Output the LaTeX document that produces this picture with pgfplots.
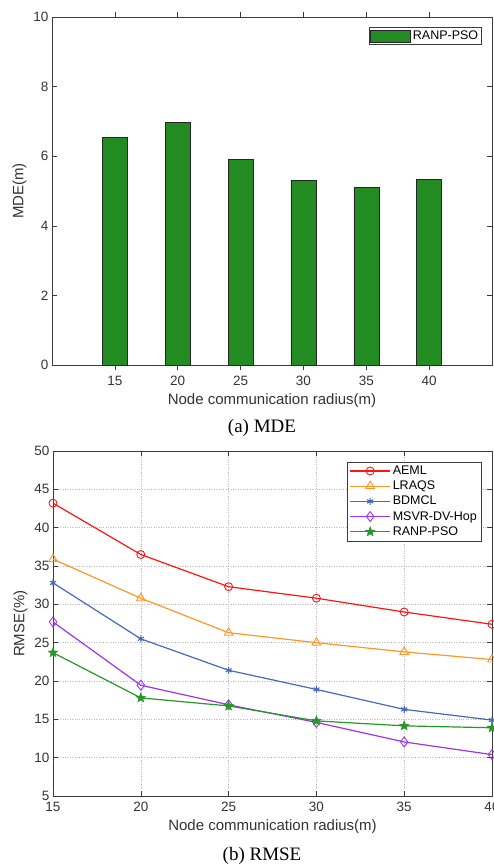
\documentclass[border=0pt]{standalone}
\usepackage{fontspec}
\setmainfont{Liberation Sans}
\newfontfamily\capfont{Liberation Serif}
\usepackage{pgfplots}
\pgfplotsset{compat=1.18}
\usetikzlibrary{plotmarks}

\definecolor{barg}{RGB}{34,139,34}
\definecolor{cAEML}{RGB}{255,20,20}
\definecolor{cLRAQS}{RGB}{255,150,40}
\definecolor{cBDMCL}{RGB}{70,105,185}
\definecolor{cMSVR}{RGB}{160,50,240}
\definecolor{cRANP}{RGB}{40,150,40}
\definecolor{axgray}{RGB}{60,60,60}

% filled five-pointed star (MATLAB pentagram)
\pgfdeclareplotmark{pentagram}{%
  \pgfpathmoveto{\pgfpointpolar{90}{\pgfplotmarksize}}%
  \pgfpathlineto{\pgfpointpolar{126}{0.42\pgfplotmarksize}}%
  \pgfpathlineto{\pgfpointpolar{162}{\pgfplotmarksize}}%
  \pgfpathlineto{\pgfpointpolar{198}{0.42\pgfplotmarksize}}%
  \pgfpathlineto{\pgfpointpolar{234}{\pgfplotmarksize}}%
  \pgfpathlineto{\pgfpointpolar{270}{0.42\pgfplotmarksize}}%
  \pgfpathlineto{\pgfpointpolar{306}{\pgfplotmarksize}}%
  \pgfpathlineto{\pgfpointpolar{342}{0.42\pgfplotmarksize}}%
  \pgfpathlineto{\pgfpointpolar{18}{\pgfplotmarksize}}%
  \pgfpathlineto{\pgfpointpolar{54}{0.42\pgfplotmarksize}}%
  \pgfpathclose
  \pgfusepathqfillstroke
}

\pgfplotsset{
  matlab/.style={
    scale only axis,
    /pgf/number format/assume math mode=true,
    axis line style={axgray, line width=0.6pt},
    tick style={axgray, line width=0.5pt},
    major tick length=5pt,
    tick align=inside,
    xlabel={Node communication radius(m)},
    label style={text=black!80, font=\fontsize{15}{18}\selectfont},
    tick label style={text=black!80, font=\fontsize{13.5}{16}\selectfont},
    xticklabel style={yshift=-3pt},
    xlabel style={yshift=-1pt},
    legend cell align=left,
  },
}

\pgfplotstableread{
x    mde
15   6.54
20   6.97
25   5.90
30   5.31
35   5.10
40   5.33
}\mdetable

\pgfplotstableread{
x   aeml  lraqs  bdmcl  msvr   ranp
15  43.2  35.9   32.8   27.7   23.7
20  36.5  30.8   25.5   19.45  17.8
25  32.3  26.3   21.4   16.9   16.75
30  30.8  25.0   18.9   14.6   14.8
35  29.0  23.8   16.3   12.05  14.15
40  27.4  22.8   14.9   10.4   13.9
}\rmsetable

\begin{document}
\begin{tikzpicture}
  % (a) MDE
  \begin{axis}[
    matlab,
    at={(52pt,-365pt)}, anchor=south west,
    width=440pt, height=348pt,
    xmin=10, xmax=45, ymin=0, ymax=10,
    xtick={15,20,25,30,35,40},
    ytick={0,2,4,6,8,10},
    ylabel={MDE(m)},
    ybar, bar width=25pt,
    legend style={at={(0.977,0.971)}, anchor=north east, draw=axgray,
      font=\fontsize{12.5}{15}\selectfont, inner sep=1.5pt},
    legend image code/.code={\draw[#1,/tikz/.cd] (0pt,-6pt) rectangle (40pt,6pt);},
  ]
    \addplot[fill=barg, draw=black!85, line width=0.5pt] table[x=x, y=mde] {\mdetable};
    \addlegendentry{RANP-PSO}
  \end{axis}

  % (b) RMSE
  \begin{axis}[
    matlab,
    at={(53pt,-796pt)}, anchor=south west,
    width=439pt, height=345pt,
    xmin=15, xmax=40, ymin=5, ymax=50,
    xtick={15,20,25,30,35,40},
    ytick={5,10,...,50},
    ylabel={RMSE(\%)},
    grid=major,
    major grid style={dotted, gray!55, line width=0.5pt},
    legend style={at={(0.975,0.969)}, anchor=north east, draw=axgray,
      font=\fontsize{12.5}{15}\selectfont, row sep=1pt, inner sep=2pt},
    legend image code/.code={\draw[mark repeat=2, mark phase=2, #1]
      plot coordinates {(0pt,0pt) (20pt,0pt) (40pt,0pt)};},
    every axis plot/.append style={line width=1.2pt},
  ]
    \addplot[cAEML, mark=o, mark size=4pt, mark options={line width=0.9pt}]
      table[x=x, y=aeml] {\rmsetable};
    \addlegendentry{AEML}
    \addplot[cLRAQS, mark=triangle, mark size=5pt, mark options={line width=0.9pt}]
      table[x=x, y=lraqs] {\rmsetable};
    \addlegendentry{LRAQS}
    \addplot[cBDMCL, mark=asterisk, mark size=3.5pt, mark options={line width=1.1pt}]
      table[x=x, y=bdmcl] {\rmsetable};
    \addlegendentry{BDMCL}
    \addplot[cMSVR, mark=diamond, mark size=5pt, mark options={line width=0.9pt}]
      table[x=x, y=msvr] {\rmsetable};
    \addlegendentry{MSVR-DV-Hop}
    \addplot[cRANP, mark=pentagram, mark size=5pt, mark options={fill=cRANP, line width=0.5pt}]
      table[x=x, y=ranp] {\rmsetable};
    \addlegendentry{RANP-PSO}
  \end{axis}

  \node[font=\capfont\fontsize{19}{22}\selectfont] at (262pt,-428pt) {(a) MDE};
  \node[font=\capfont\fontsize{19}{22}\selectfont] at (262pt,-856pt) {(b) RMSE};

  \pgfresetboundingbox
  \useasboundingbox (0pt,0pt) rectangle (493pt,-865pt);
\end{tikzpicture}
\end{document}
